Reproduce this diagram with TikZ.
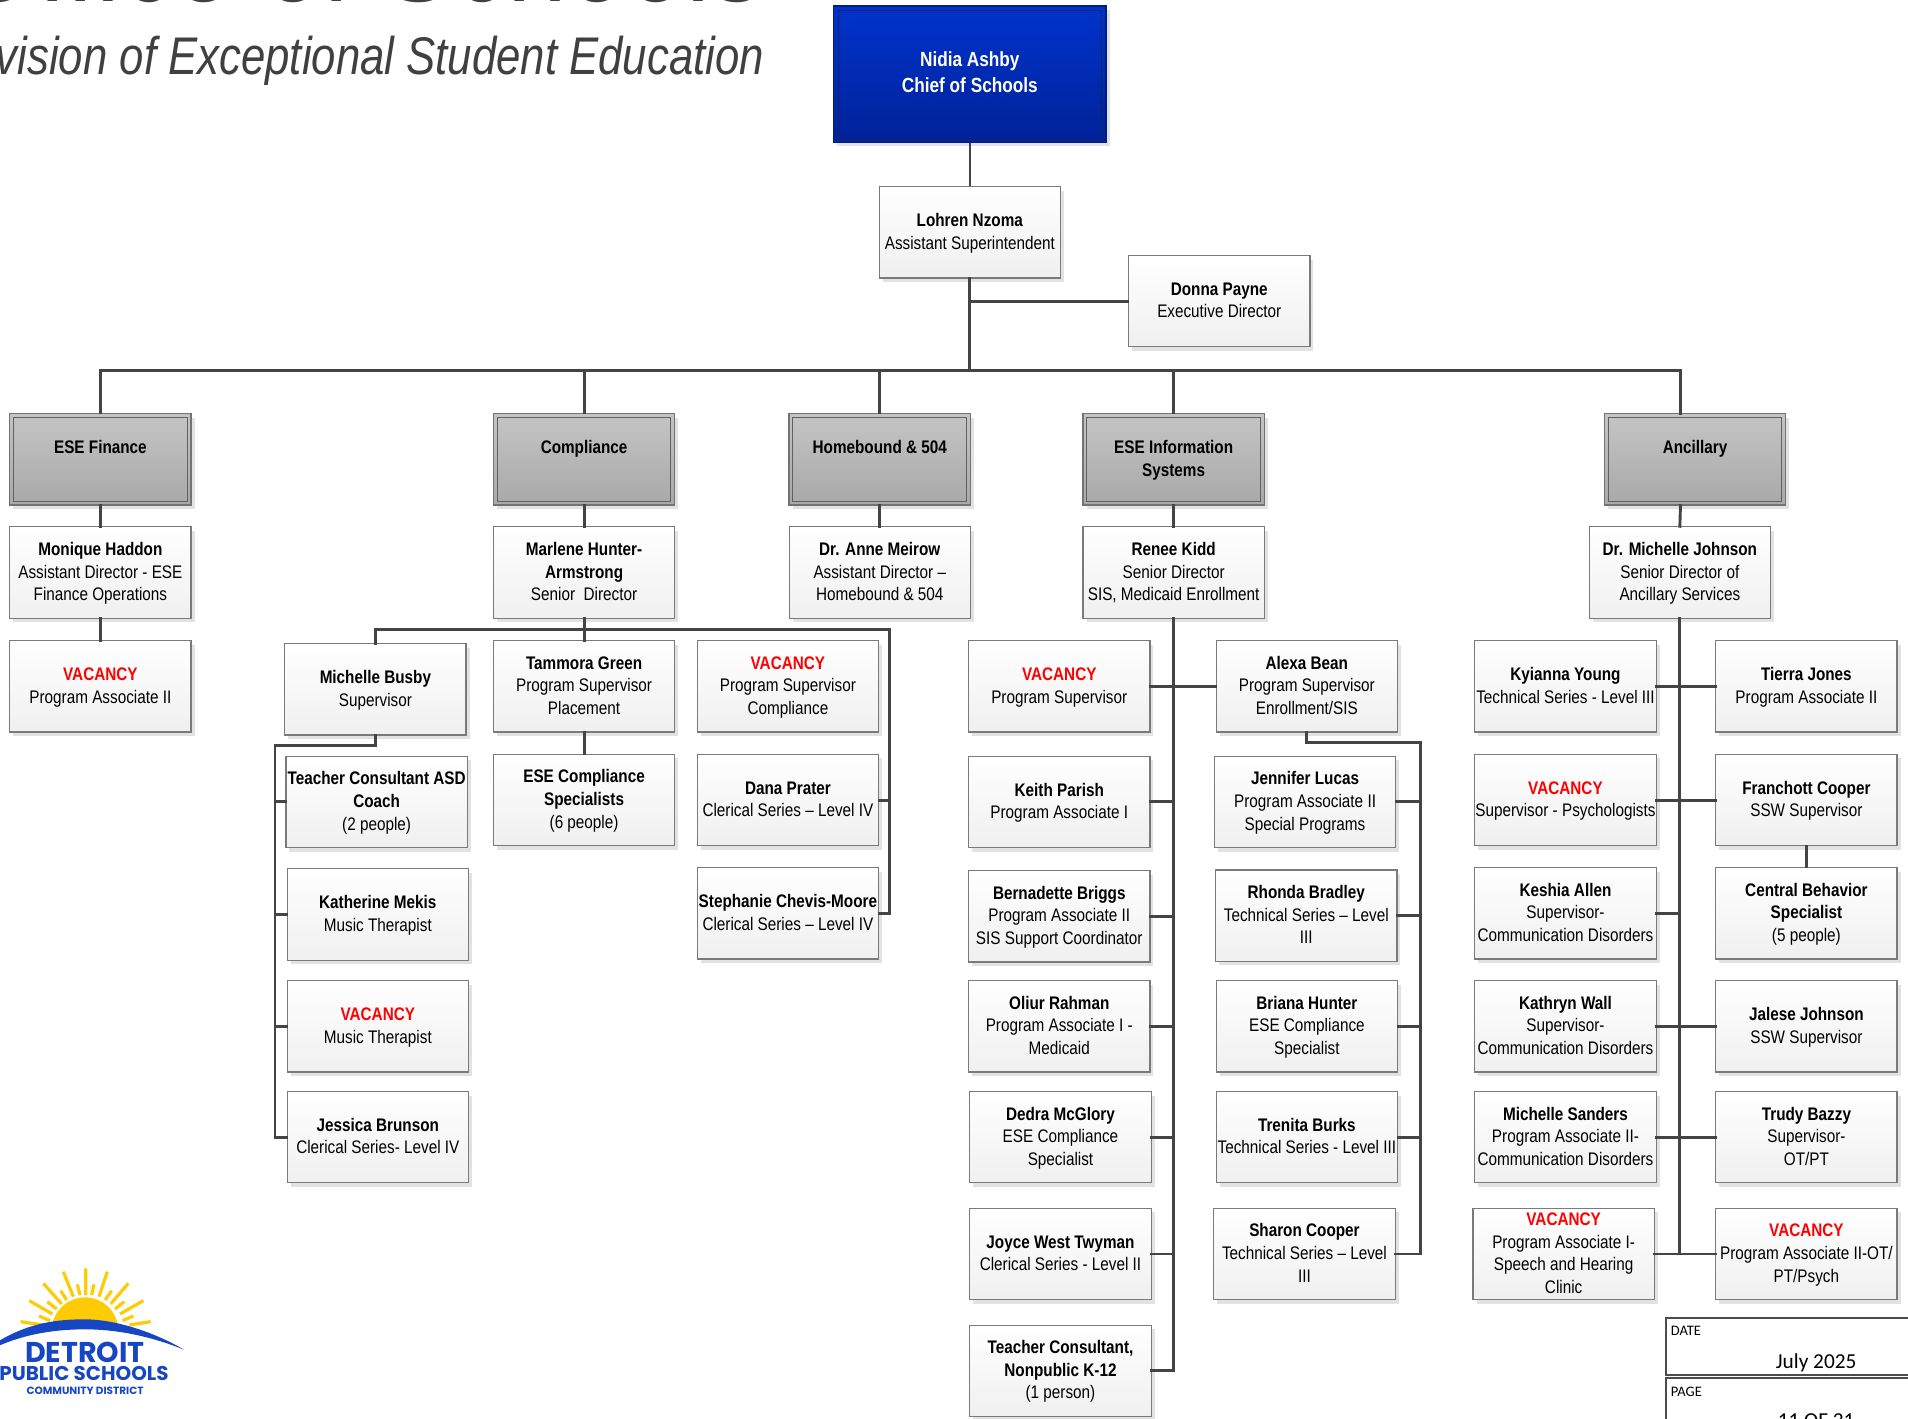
\documentclass[tikz,border=0pt]{standalone}
\usepackage{fontspec}
\setmainfont[FakeStretch=0.84]{Liberation Sans}
\newfontfamily\titlefont[FakeStretch=0.825]{Liberation Sans}
\newfontfamily\logofont{Poppins}
\newfontfamily\calfont{Carlito}
\usetikzlibrary{shadows,calc}
\definecolor{linecol}{HTML}{444444}
\definecolor{bordercol}{HTML}{7A7A7A}
\definecolor{shadowcol}{HTML}{E2E2E2}
\definecolor{dpsblue}{HTML}{1746C4}
\definecolor{dpsyellow}{HTML}{FFCB05}
\definecolor{navyframe}{HTML}{10246E}
\newcommand{\nm}[1]{\rule{0pt}{16pt}\textbf{#1}}
\newcommand{\vac}[1]{\rule{0pt}{16pt}\textcolor{red}{\textbf{#1}}}
\newcommand{\e}{\rule[-5pt]{0pt}{5pt}}
\tikzset{
  base box/.style={rectangle,inner sep=0pt,align=center,minimum width=181.3pt,minimum height=91.3pt,
    font=\fontsize{18.2}{22.6}\selectfont,
    drop shadow={shadow xshift=3.5pt,shadow yshift=-4pt,fill=shadowcol,opacity=1}},
  pbox/.style={base box,draw=bordercol,line width=1.2pt,top color=white,bottom color=black!6},
  hbox/.style={base box,draw=black!55,line width=1.4pt,top color=black!23,bottom color=black!34},
  topbox/.style={base box,minimum width=272.5pt,minimum height=136.3pt,text=white,draw={rgb,255:red,0;green,30;blue,130},
    line width=1.4pt,top color={rgb,255:red,0;green,51;blue,204},bottom color={rgb,255:red,0;green,34;blue,153},
    font=\fontsize{20.5}{25.5}\selectfont},
  inner frame/.style={draw=black!62,line width=0.9pt},
  conn/.style={draw=linecol,line width=2.9pt,line cap=rect,line join=miter},
  thinconn/.style={draw=linecol,line width=1.8pt},
  infobox/.style={draw=black!70,line width=2pt,fill=white},
  ray/.style={draw=dpsyellow,line width=3.2pt}
}
\begin{document}
\begin{tikzpicture}[x=1.21684pt,y=-1.21684pt]
\useasboundingbox (0,0) rectangle (1568,1166);
\clip (0,0) rectangle (1568,1166);
% titles
\node[anchor=base east,inner sep=0pt,text=black!75,font=\titlefont\fontsize{130}{130}\selectfont] (maintitle) at (628,1.6) {Office of Schools};
\node[anchor=base east,inner sep=0pt,text=black!75,font=\titlefont\itshape\fontsize{53}{60}\selectfont] (subtitle) at (628,61.6) {Division of Exceptional Student Education};
% top
\node[topbox] (nidia) at (797,61) {\nm{Nidia Ashby}\\\nm{Chief of Schools}\e};
\node[pbox] (lohren) at (797,191) {\nm{Lohren Nzoma}\\Assistant Superintendent\e};
\node[pbox] (donna) at (1002,247.5) {\nm{Donna Payne}\\Executive Director\e};
% headers
\node[hbox] (hfin) at (82.5,377.5) {\nm{ESE Finance}\\\e};
\node[hbox] (hcomp) at (480,377.5) {\nm{Compliance}\\\e};
\node[hbox] (hhome) at (723,377.5) {\nm{Homebound \& 504}\\\e};
\node[hbox] (hinfo) at (964.5,377.5) {\nm{ESE Information}\\\nm{Systems}\e};
\node[hbox] (hanc) at (1393,377.5) {\nm{Ancillary}\\\e};
\foreach \hn in {hfin,hcomp,hhome,hinfo,hanc}
  \draw[inner frame] ([shift={(4.5pt,4.5pt)}]\hn.south west) rectangle ([shift={(-4.5pt,-4.5pt)}]\hn.north east);
\draw[draw=navyframe,line width=0.8pt] ([shift={(5.5pt,5pt)}]nidia.south west) rectangle ([shift={(-5.5pt,-5pt)}]nidia.north east);
% row 2
\node[pbox] (monique) at (82.5,470.5) {\nm{Monique Haddon}\\Assistant Director - ESE\\Finance Operations\e};
\node[pbox] (marlene) at (480,470.5) {\nm{Marlene Hunter-}\\\nm{Armstrong}\\Senior\ \ Director\e};
\node[pbox] (anne) at (723,470.5) {\nm{Dr. Anne Meirow}\\Assistant Director --\\Homebound \& 504\e};
\node[pbox] (renee) at (964.5,470.5) {\nm{Renee Kidd}\\Senior Director\\SIS, Medicaid Enrollment\e};
\node[pbox] (mjohnson) at (1380.5,470.5) {\nm{Dr. Michelle Johnson}\\Senior Director of\\Ancillary Services\e};
% finance
\node[pbox] (vacfin) at (82.5,564) {\vac{VACANCY}\\Program Associate II\e};
% compliance
\node[pbox] (busby) at (308.5,566.5) {\nm{Michelle Busby}\\Supervisor\e};
\node[pbox] (tammora) at (480,564) {\nm{Tammora Green}\\Program Supervisor\\Placement\e};
\node[pbox] (vaccomp) at (647.5,564) {\vac{VACANCY}\\Program Supervisor\\Compliance\e};
\node[pbox] (asd) at (309.5,659) {\nm{Teacher Consultant ASD}\\\nm{Coach}\\(2 people)\e};
\node[pbox] (specialists) at (480,657.5) {\nm{ESE Compliance}\\\nm{Specialists}\\(6 people)\e};
\node[pbox] (dana) at (647.5,657.5) {\nm{Dana Prater}\\Clerical Series -- Level IV\e};
\node[pbox] (stephanie) at (647.5,750.5) {\nm{Stephanie Chevis-Moore}\\Clerical Series -- Level IV\e};
\node[pbox] (katherine) at (310.5,751.5) {\nm{Katherine Mekis}\\Music Therapist\e};
\node[pbox] (vacmusic) at (310.5,843.5) {\vac{VACANCY}\\Music Therapist\e};
\node[pbox] (jessica) at (310.5,934.5) {\nm{Jessica Brunson}\\Clerical Series- Level IV\e};
% info left
\node[pbox] (vacps) at (870.5,564) {\vac{VACANCY}\\Program Supervisor\e};
\node[pbox] (keith) at (870.5,659) {\nm{Keith Parish}\\Program Associate I\e};
\node[pbox] (bernadette) at (870.5,753) {\nm{Bernadette Briggs}\\Program Associate II\\SIS Support Coordinator\e};
\node[pbox] (oliur) at (870.5,843.5) {\nm{Oliur Rahman}\\Program Associate I -\\Medicaid\e};
\node[pbox] (dedra) at (871.5,934.5) {\nm{Dedra McGlory}\\ESE Compliance\\Specialist\e};
\node[pbox] (joyce) at (871.5,1030.5) {\nm{Joyce West Twyman}\\Clerical Series - Level II\e};
\node[pbox] (nonpublic) at (871.5,1126.5) {\nm{Teacher Consultant,}\\\nm{Nonpublic K-12}\\(1 person)\e};
% info right
\node[pbox] (alexa) at (1074,564) {\nm{Alexa Bean}\\Program Supervisor\\Enrollment/SIS\e};
\node[pbox] (jennifer) at (1072.5,659) {\nm{Jennifer Lucas}\\Program Associate II\\Special Programs\e};
\node[pbox] (rhonda) at (1073.5,752.5) {\nm{Rhonda Bradley}\\Technical Series -- Level\\III\e};
\node[pbox] (briana) at (1074,843.5) {\nm{Briana Hunter}\\ESE Compliance\\Specialist\e};
\node[pbox] (trenita) at (1074,934.5) {\nm{Trenita Burks}\\Technical Series - Level III\e};
\node[pbox] (sharon) at (1072,1030.5) {\nm{Sharon Cooper}\\Technical Series -- Level\\III\e};
% ancillary left
\node[pbox] (kyianna) at (1286.5,564) {\nm{Kyianna Young}\\Technical Series - Level III\e};
\node[pbox] (vacpsych) at (1286.5,657.5) {\vac{VACANCY}\\Supervisor - Psychologists\e};
\node[pbox] (keshia) at (1286.5,750.5) {\nm{Keshia Allen}\\Supervisor-\\Communication Disorders\e};
\node[pbox] (kathryn) at (1286.5,843.5) {\nm{Kathryn Wall}\\Supervisor-\\Communication Disorders\e};
\node[pbox] (sanders) at (1286.5,934.5) {\nm{Michelle Sanders}\\Program Associate II-\\Communication Disorders\e};
\node[pbox] (vacspeech) at (1285,1030.5) {\vac{VACANCY}\\Program Associate I-\\Speech and Hearing\\Clinic\e};
% ancillary right
\node[pbox] (tierra) at (1484.5,564) {\nm{Tierra Jones}\\Program Associate II\e};
\node[pbox] (franchott) at (1484.5,657.5) {\nm{Franchott Cooper}\\SSW Supervisor\e};
\node[pbox] (central) at (1484.5,750.5) {\nm{Central Behavior}\\\nm{Specialist}\\(5 people)\e};
\node[pbox] (jalese) at (1484.5,843.5) {\nm{Jalese Johnson}\\SSW Supervisor\e};
\node[pbox] (trudy) at (1484.5,934.5) {\nm{Trudy Bazzy}\\Supervisor-\\OT/PT\e};
\node[pbox] (vacot) at (1484.5,1030.5) {\vac{VACANCY}\\Program Associate II-OT/\\PT/Psych\e};
% helper coordinates
\coordinate (bus) at (0,304.5);
\coordinate (ancdrop) at (1381,340);
\coordinate (cbus) at (0,517.5);
\coordinate (cright) at (731,517.5);
\coordinate (bbus) at (226,613);
\coordinate (rbus) at (1167,610);
% connectors
\draw[thinconn] (nidia.south) -- (lohren.north);
\draw[conn] (lohren.south) -- (lohren.south |- bus);
\draw[conn] (lohren.south |- donna.west) -- (donna.west);
\draw[conn] (hfin.north) |- (ancdrop |- bus) -- (ancdrop);
\draw[conn] (hcomp.north) -- (hcomp.north |- bus);
\draw[conn] (hhome.north) -- (hhome.north |- bus);
\draw[conn] (hinfo.north) -- (hinfo.north |- bus);
\draw[conn] (hfin.south) -- (monique.north);
\draw[conn] (monique.south) -- (vacfin.north);
\draw[conn] (hcomp.south) -- (marlene.north);
\draw[conn] (hhome.south) -- (anne.north);
\draw[conn] (hinfo.south) -- (renee.north);
\draw[conn] (ancdrop |- hanc.south) -- (mjohnson.north);
% compliance branch
\draw[conn] (marlene.south) -- (tammora.north);
\draw[conn] (tammora.south) -- (specialists.north);
\draw[conn] (busby.north) |- (cbus -| cright) |- (stephanie.east);
\draw[conn] (dana.east) -- (dana.east -| cright);
\draw[conn] (busby.south) |- (bbus) |- (jessica.west);
\draw[conn] (asd.west) -- (asd.west -| bbus);
\draw[conn] (katherine.west) -- (katherine.west -| bbus);
\draw[conn] (vacmusic.west) -- (vacmusic.west -| bbus);
% information branch
\draw[conn] (renee.south) |- (nonpublic.east);
\draw[conn] (vacps.east) -- (alexa.west);
\draw[conn] (keith.east) -- (keith.east -| renee.south);
\draw[conn] (bernadette.east) -- (bernadette.east -| renee.south);
\draw[conn] (oliur.east) -- (oliur.east -| renee.south);
\draw[conn] (dedra.east) -- (dedra.east -| renee.south);
\draw[conn] (joyce.east) -- (joyce.east -| renee.south);
\draw[conn] (alexa.south) |- (rbus) |- (sharon.east);
\draw[conn] (jennifer.east) -- (jennifer.east -| rbus);
\draw[conn] (rhonda.east) -- (rhonda.east -| rbus);
\draw[conn] (briana.east) -- (briana.east -| rbus);
\draw[conn] (trenita.east) -- (trenita.east -| rbus);
% ancillary branch
\draw[conn] (mjohnson.south) -- (mjohnson.south |- vacot.west);
\draw[conn] (kyianna.east) -- (tierra.west);
\draw[conn] (vacpsych.east) -- (franchott.west);
\draw[conn] (keshia.east) -- (keshia.east -| mjohnson.south);
\draw[conn] (kathryn.east) -- (jalese.west);
\draw[conn] (sanders.east) -- (trudy.west);
\draw[conn] (vacspeech.east) -- (vacot.west);
\draw[conn] (franchott.south) -- (central.north);
% date boxes
\node[infobox,anchor=north west,minimum width=300pt,minimum height=57pt] (datebox) at (1368.5,1082.5) {};
\node[infobox,anchor=north west,minimum width=300pt,minimum height=80pt] (pagebox) at (1368.5,1132) {};
\node[anchor=base west,inner sep=0pt,font=\calfont\fontsize{14.5}{16}\selectfont] (datelabel) at (1373,1097.5) {DATE};
\node[anchor=base west,inner sep=0pt,font=\calfont\fontsize{14.5}{16}\selectfont] (pagelabel) at (1373,1147.5) {PAGE};
\node[anchor=base,inner sep=0pt,font=\calfont\fontsize{21.3}{24}\selectfont] (dateval) at (1492.5,1124.5) {July 2025};
\node[anchor=base,inner sep=0pt,font=\calfont\fontsize{21.3}{24}\selectfont] (pageval) at (1492.5,1173) {11 OF 21};
% logo
\begin{scope}[shift={(0pt,-1230pt)},x=0.33333pt,y=-0.33333pt]
  \begin{scope}
    \clip (100,180) rectangle (420,290);
    \fill[dpsyellow] (255,302) circle [radius=33.3pt];
  \end{scope}
  \draw[ray] (257,115) -- (257,195) (190,125) -- (220,200) (322,125) -- (297,200)
    (130,160) -- (185,222) (385,160) -- (332,222) (88,212) -- (157,252) (430,212) -- (360,252)
    (62,275) -- (130,285) (452,275) -- (388,285)
    (232,163) -- (240,195) (282,163) -- (275,195) (182,182) -- (200,210) (335,182) -- (315,210)
    (142,215) -- (170,237) (373,215) -- (345,237) (117,258) -- (150,272) (400,258) -- (368,272);
  \fill[dpsblue] (-10,337) .. controls (90,275) and (180,268) .. (255,268)
     .. controls (350,268) and (470,310) .. (552,359)
     .. controls (450,318) and (350,298) .. (255,298)
     .. controls (170,298) and (80,310) .. (-10,350) -- cycle;
  \node[anchor=base,inner sep=0pt,text=dpsblue,font=\logofont\bfseries\fontsize{28.6}{29}\selectfont] (logoa) at (255,398) {DETROIT};
  \node[anchor=base,inner sep=0pt,text=dpsblue,font=\logofont\bfseries\fontsize{19.9}{20}\selectfont] (logob) at (252,450) {PUBLIC SCHOOLS};
  \node[anchor=base,inner sep=0pt,text=dpsblue,font=\logofont\bfseries\fontsize{10.5}{11}\selectfont] (logoc) at (255,492) {COMMUNITY DISTRICT};
\end{scope}
\end{tikzpicture}
\end{document}
